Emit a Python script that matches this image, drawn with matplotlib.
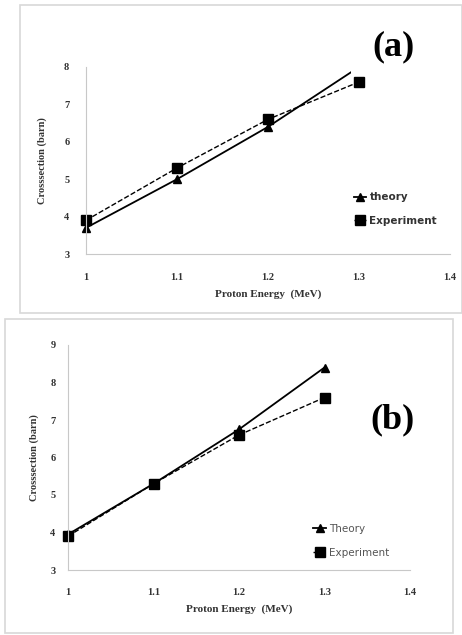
import matplotlib.pyplot as plt
from matplotlib.patches import Rectangle

# proton energy (MeV)
energy = [1.0, 1.1, 1.2, 1.3]

# panel (a)
theory_a = [3.7, 5.0, 6.4, 8.0]
exper_a = [3.9, 5.3, 6.6, 7.6]

# panel (b)
theory_b = [3.95, 5.3, 6.75, 8.4]
exper_b = [3.9, 5.3, 6.6, 7.6]

xticks = [1, 1.1, 1.2, 1.3, 1.4]
xtick_labels = ['1', '1.1', '1.2', '1.3', '1.4']

fig = plt.figure(figsize=(4.62, 6.35), dpi=100)

# light frames around each panel
fig.patches.append(Rectangle((20 / 462, 1 - 313 / 635), 442 / 462, 308 / 635,
                             transform=fig.transFigure, fill=False,
                             ec='#d8d8d8', lw=1.2))
fig.patches.append(Rectangle((5 / 462, 1 - 633 / 635), 448 / 462, 314 / 635,
                             transform=fig.transFigure, fill=False,
                             ec='#d8d8d8', lw=1.2))

serif = 'Liberation Serif'


def setup(ax, ylim, yticks, ypad, xpad, ylabpad):
    ax.set_xlim(1, 1.4)
    ax.set_ylim(*ylim)
    ax.set_xticks(xticks)
    ax.set_xticklabels(xtick_labels)
    ax.set_yticks(yticks)
    for s in ['top', 'right']:
        ax.spines[s].set_visible(False)
    for s in ['left', 'bottom']:
        ax.spines[s].set_color('#c8c8c8')
        ax.spines[s].set_linewidth(0.8)
    ax.tick_params(length=0, labelsize=7.5, labelcolor='#333333')
    ax.tick_params(axis='y', pad=ypad)
    ax.tick_params(axis='x', pad=xpad)
    for lab in ax.get_xticklabels() + ax.get_yticklabels():
        lab.set_family(serif)
        lab.set_weight('bold')
    ax.set_xlabel('Proton Energy  (MeV)', family=serif, weight='bold',
                  fontsize=8, color='#333333', labelpad=5)
    ax.set_ylabel('Crosssection (barn)', family=serif, weight='bold',
                  fontsize=7.5, color='#333333', labelpad=ylabpad)


# ---- (a) ----
ax1 = fig.add_axes([86 / 462, 1 - 254 / 635, 364 / 462, 187 / 635])
ax1.plot(energy, theory_a, '-^', color='black', lw=1.3, ms=6, label='theory',
         clip_on=False)
ax1.plot(energy, exper_a, '--s', color='black', lw=1.0, ms=6.5,
         label='Experiment', clip_on=False)
setup(ax1, (3, 8), range(3, 9), ypad=12, xpad=14, ylabpad=12)
ax1.legend(loc='center left', bbox_to_anchor=(0.71, 0.24), frameon=False,
           handlelength=1.2, handletextpad=0.3, labelspacing=1.3,
           prop={'family': 'DejaVu Sans', 'weight': 'bold', 'size': 7.5})
for t in ax1.get_legend().get_texts():
    t.set_color('#333333')
# white block behind the panel letter, as in the original figure
fig.patches.append(Rectangle((351 / 462, 1 - 74 / 635), 90 / 462, 58 / 635,
                             transform=fig.transFigure, fc='white',
                             ec='none', zorder=5))
fig.text(393 / 462, 1 - 47 / 635, '(a)', family=serif, weight='bold',
         fontsize=26, ha='center', va='center', zorder=10)

# ---- (b) ----
ax2 = fig.add_axes([68 / 462, 1 - 570 / 635, 342 / 462, 225 / 635])
ax2.plot(energy, theory_b, '-^', color='black', lw=1.3, ms=6, label='Theory',
         clip_on=False)
ax2.plot(energy, exper_b, '--s', color='black', lw=1.0, ms=6.5,
         label='Experiment', clip_on=False)
setup(ax2, (3, 9), range(3, 10), ypad=9, xpad=13, ylabpad=8)
ax2.legend(loc='center left', bbox_to_anchor=(0.69, 0.13), frameon=False,
           handlelength=1.2, handletextpad=0.3, labelspacing=1.3,
           prop={'family': 'DejaVu Sans', 'size': 7.5})
for t in ax2.get_legend().get_texts():
    t.set_color('#555555')
fig.text(393 / 462, 1 - 420 / 635, '(b)', family=serif, weight='bold',
         fontsize=26, ha='center', va='center')

fig.savefig('out.png', dpi=100)
